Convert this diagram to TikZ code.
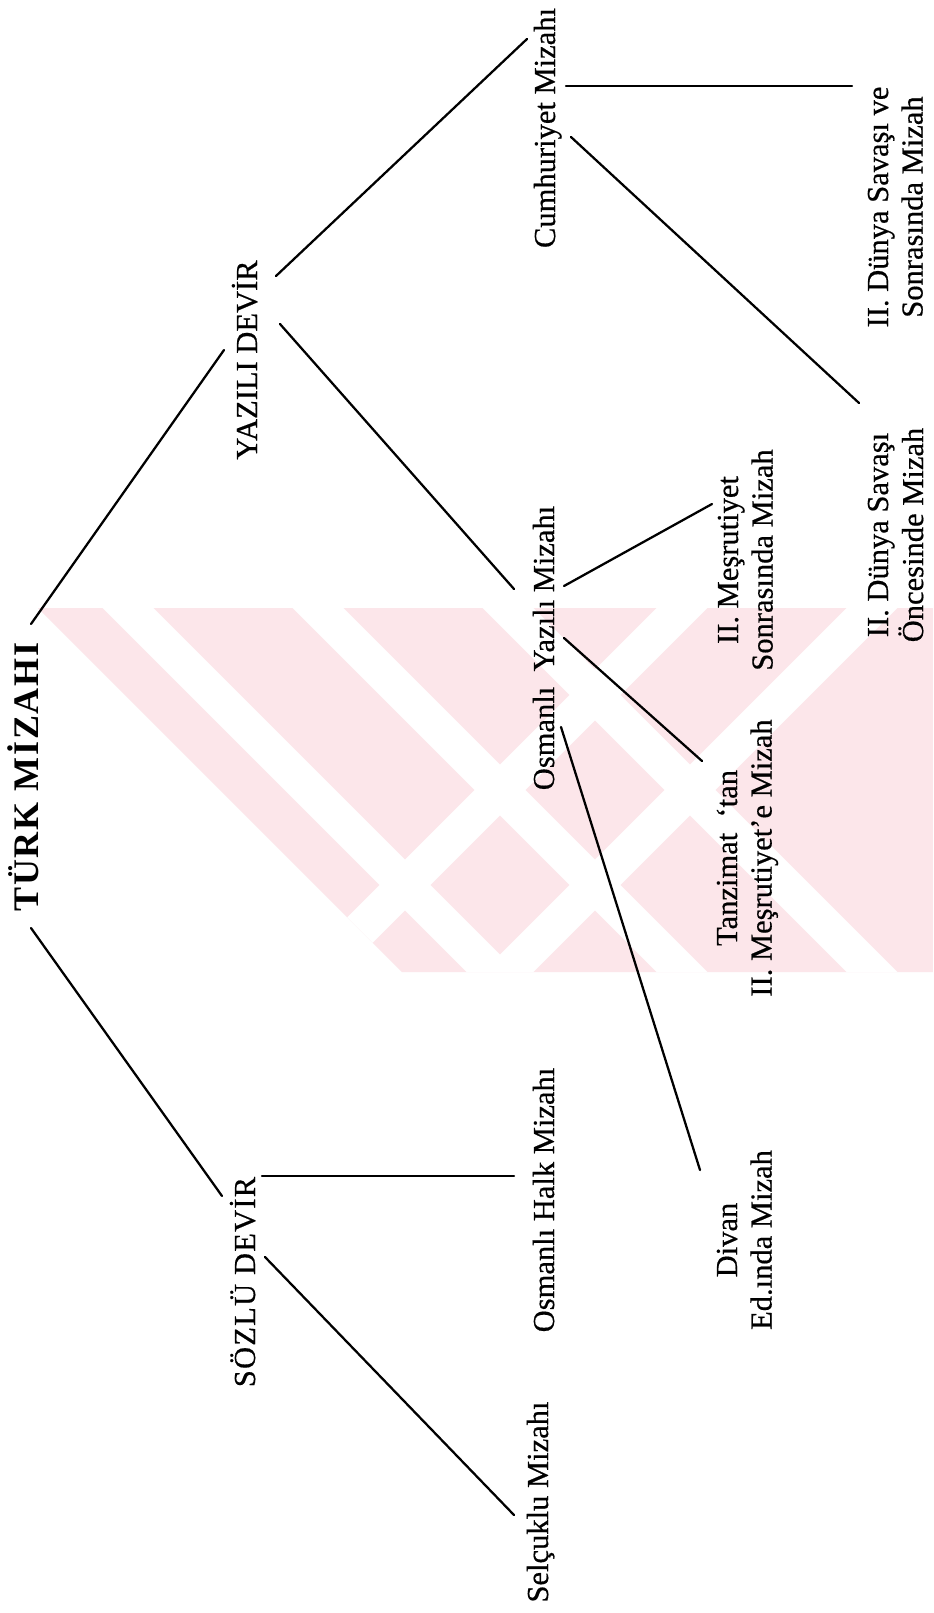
\documentclass[tikz,border=0pt]{standalone}
\usepackage{fontspec}
\setmainfont{Liberation Serif}[UprightFeatures={FakeBold=0.5}]
\definecolor{wmpink}{RGB}{252,230,234}
\begin{document}
\begin{tikzpicture}[x=0.75pt,y=-0.75pt,
  lbl/.style={rotate=90,anchor=base,inner sep=0pt,font=\fontsize{22.9pt}{25.9pt}\selectfont},
  root/.style={rotate=90,anchor=base,inner sep=0pt,font=\fontsize{27pt}{30pt}\selectfont\bfseries\addfontfeature{LetterSpace=5}},
  conn/.style={line width=1.7pt,line cap=round},
  wmgap/.style={white,line width=27pt}]
\useasboundingbox (0,0) rectangle (933,1613);
\fill[white] (0,0) rectangle (933,1613);
% faint watermark
\begin{scope}
  \clip (38,608) -- (933,608) -- (933,972) -- (402,972) -- cycle;
  \fill[wmpink] (0,600) rectangle (933,980);
  \draw[wmgap] (108,588) -- (508,988);
  \draw[wmgap] (298,588) -- (698,988);
  \draw[wmgap] (488,588) -- (888,988);
  \draw[wmgap] (702,588) -- (302,988);
  \draw[wmgap] (892,588) -- (492,988);
\end{scope}
% nodes
\node[root] (turk) at (38,777) {TÜRK MİZAHI};
\node[lbl] (yazili) at (257,360) {YAZILI DEVİR};
\node[lbl,font=\fontsize{22.9pt}{25.9pt}\selectfont\addfontfeature{LetterSpace=4}] (sozlu) at (255,1282) {SÖZLÜ DEVİR};
\node[lbl] (halk) at (554,1200) {Osmanlı Halk Mizahı};
\node[lbl] (selcuk) at (548,1502) {Selçuklu Mizahı};
\node[lbl] (yazmiz) at (554,648) {Osmanlı\ \ Yazılı Mizahı};
\node[lbl] (cumh) at (555,128) {Cumhuriyet Mizahı};
\node[lbl] (mesr) at (738,560) {\begin{tabular}[t]{@{}c@{}}II. Meşrutiyet\\Sonrasında Mizah\end{tabular}};
\node[lbl] (tanz) at (737,858) {\begin{tabular}[t]{@{}c@{}}Tanzimat \ ‘tan\\II. Meşrutiyet’e Mizah\end{tabular}};
\node[lbl] (divan) at (737,1240) {\begin{tabular}[t]{@{}c@{}}Divan\\Ed.ında Mizah\end{tabular}};
\node[lbl] (once) at (888,535) {\begin{tabular}[t]{@{}c@{}}II. Dünya Savaşı\\Öncesinde Mizah\end{tabular}};
\node[lbl] (sonra) at (888,207) {\begin{tabular}[t]{@{}c@{}}II. Dünya Savaşı ve\\Sonrasında Mizah\end{tabular}};
% connector end points
\coordinate (t1) at (31,624);  \coordinate (y1) at (224,350);
\coordinate (t2) at (31,928);  \coordinate (s1) at (222,1196);
\coordinate (y2) at (276,276); \coordinate (c1) at (527,39);
\coordinate (y3) at (280,324); \coordinate (m1) at (514,589);
\coordinate (s2) at (262,1176); \coordinate (h1) at (514,1176);
\coordinate (s3) at (265,1257); \coordinate (k1) at (514,1515);
\coordinate (m2) at (564,586); \coordinate (me1) at (712,504);
\coordinate (m3) at (564,638); \coordinate (ta1) at (702,761);
\coordinate (m4) at (561,727); \coordinate (d1) at (700,1170);
\coordinate (c2) at (566,86);  \coordinate (so1) at (852,86);
\coordinate (c3) at (571,137); \coordinate (o1) at (859,403);
\draw[conn] (t1) -- (y1);
\draw[conn] (t2) -- (s1);
\draw[conn] (y2) -- (c1);
\draw[conn] (y3) -- (m1);
\draw[conn] (s2) -- (h1);
\draw[conn] (s3) -- (k1);
\draw[conn] (m2) -- (me1);
\draw[conn] (m3) -- (ta1);
\draw[conn] (m4) -- (d1);
\draw[conn] (c2) -- (so1);
\draw[conn] (c3) -- (o1);
\end{tikzpicture}
\end{document}
